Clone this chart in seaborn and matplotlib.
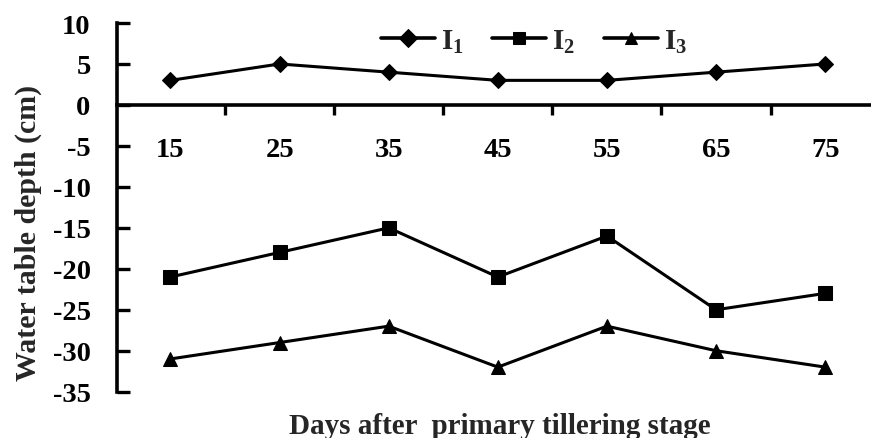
import matplotlib
matplotlib.use("Agg")
import matplotlib.pyplot as plt
import seaborn as sns
import pandas as pd
import numpy as np
from matplotlib.ticker import FixedLocator

days = ["15", "25", "35", "45", "55", "65", "75"]
i1 = [3, 5, 4, 3, 3, 4, 5]
i2 = [-21, -18, -15, -21, -16, -25, -23]
i3 = [-31, -29, -27, -32, -27, -30, -32]
series_names = [r"$\mathbf{I_1}$", r"$\mathbf{I_2}$", r"$\mathbf{I_3}$"]
yticks = [10, 5, 0, -5, -10, -15, -20, -25, -30, -35]

sns.set_theme(style="white")
plt.rcParams["font.family"] = ["Liberation Serif", "DejaVu Serif"]
plt.rcParams["font.weight"] = "bold"
plt.rcParams["mathtext.fontset"] = "custom"
plt.rcParams["mathtext.rm"] = "Liberation Serif:bold"
plt.rcParams["mathtext.bf"] = "Liberation Serif:bold"
plt.rcParams["mathtext.it"] = "Liberation Serif:bold"

df = pd.DataFrame({
    "day": days * 3,
    "depth": i1 + i2 + i3,
    "series": [series_names[0]] * len(days) + [series_names[1]] * len(days) + [series_names[2]] * len(days),
})

fig = plt.figure(figsize=(8.71, 4.39), dpi=100)
ax = fig.add_axes([117 / 871, 1 - 392.7 / 439, 1 - 117 / 871, (392.7 - 24) / 439])

sns.lineplot(
    data=df, x="day", y="depth", hue="series", style="series",
    palette=["black"] * 3,
    markers={series_names[0]: "D", series_names[1]: "s", series_names[2]: "^"},
    dashes=False, markersize=9, linewidth=2.2, markeredgecolor="black",
    sort=False, ax=ax,
)
for ln, ms in zip(ax.lines, [8, 9.5, 10.5]):
    ln.set_markersize(ms)

ax.set_ylim(-35, 10)
ax.set_xlim(-0.49, 6.42)
ax.set_yticks(yticks)
ax.set_yticklabels([str(v) for v in yticks], fontsize=20.5, fontweight="bold")

# x axis at y=0
for s in ["top", "right"]:
    ax.spines[s].set_visible(False)
ax.spines["bottom"].set_position(("data", 0))
for s in ["left", "bottom"]:
    ax.spines[s].set_linewidth(2.6)
    ax.spines[s].set_color("black")

ax.tick_params(axis="y", direction="in", length=9, width=2.4, pad=19, colors="black", left=True)
ax.tick_params(axis="x", which="major", length=0, pad=23, labelsize=20.5, colors="black")
ax.xaxis.set_minor_locator(FixedLocator(np.arange(0.5, len(days) - 1, 1.0)))
ax.tick_params(axis="x", which="minor", direction="out", length=7, width=2.4, bottom=True, colors="black")
for lab in ax.get_xticklabels():
    lab.set_fontweight("bold")

ax.set_xlabel("Days after  primary tillering stage", fontsize=21, fontweight="bold", labelpad=0)
ax.xaxis.set_label_coords(0.508, -0.055)
ax.set_ylabel("Water table depth (cm)", fontsize=21.5, fontweight="bold")
ax.yaxis.set_label_coords(-0.118, 0.434)
ax.yaxis.label.set_verticalalignment("center")

leg = ax.legend(
    loc="center", bbox_to_anchor=(534 / 871, 1 - 42 / 439), bbox_transform=fig.transFigure,
    ncol=3, frameon=False, fontsize=21, handlelength=1.85, columnspacing=1.0,
    handletextpad=0.2, title=None,
)
for h in leg.legend_handles:
    h.set_linewidth(2.6)

fig.savefig("out.png", dpi=100)
